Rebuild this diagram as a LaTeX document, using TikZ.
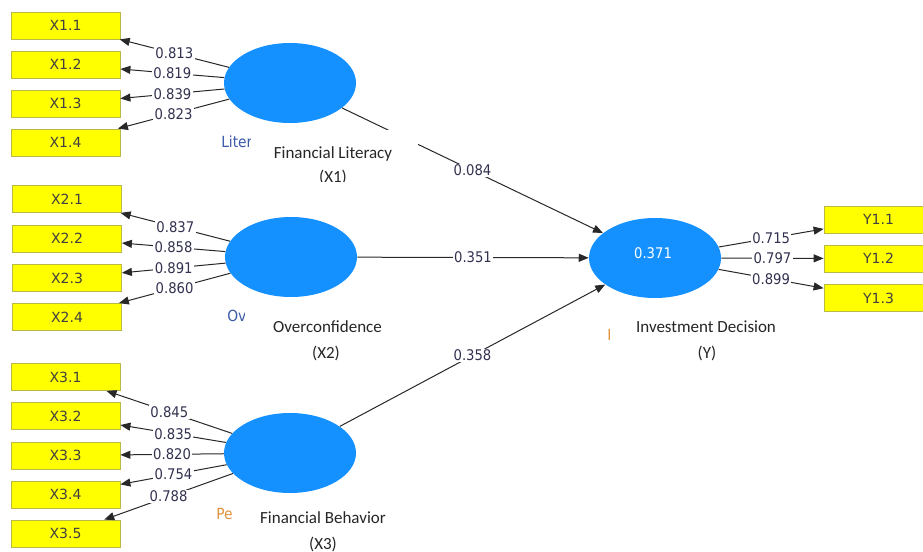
\documentclass[tikz,border=0pt]{standalone}
\usepackage{fontspec}
\setmainfont{Carlito}
\newfontfamily\numfont[FakeStretch=0.9]{DejaVu Sans}
\newfontfamily\boxfont{DejaVu Sans}
\usetikzlibrary{shapes.geometric,arrows.meta}
\definecolor{latent}{RGB}{20,144,255}
\definecolor{indfill}{RGB}{255,255,0}
\definecolor{indline}{RGB}{185,185,70}
\definecolor{coef}{RGB}{50,50,80}
\definecolor{connc}{RGB}{40,40,40}
\definecolor{ghost}{RGB}{60,90,170}
\definecolor{ghosto}{RGB}{225,145,60}
\begin{document}
\begin{tikzpicture}[x=0.75pt,y=-0.75pt,
 ind/.style={rectangle,fill=indfill,draw=indline,line width=0.6pt,minimum width=81.75pt,minimum height=20.25pt,inner sep=0pt,font=\boxfont\fontsize{10.5pt}{12pt}\selectfont,text=black!75},
 lat/.style={ellipse,fill=latent,minimum width=99pt,minimum height=60pt,inner sep=0pt},
 conn/.style={draw=connc,line width=0.75pt,-{Triangle[length=7.5pt,width=6pt]}},
 coefl/.style={fill=white,inner sep=1pt,text=coef,font=\numfont\fontsize{11pt}{13pt}\selectfont},
 lbl/.style={font=\fontsize{12.75pt}{15pt}\selectfont,text=black!85,inner sep=0pt},
 ghostl/.style={font=\numfont\fontsize{11.5pt}{13pt}\selectfont,text=ghost,inner sep=0pt,anchor=west}]
\clip (0,0) rectangle (923,552);
\fill[white] (0,0) rectangle (923,552);

% latent variables
\node[lat] (FL) at (290,83) {};
\node[lat] (OC) at (291,257) {};
\node[lat] (FB) at (290,453) {};
\node[lat] (ID) at (655,258) {};
\node[font=\numfont\fontsize{11pt}{13pt}\selectfont,text=white,inner sep=0pt] (R2) at (653,253) {0.371};

% indicators
\node[ind] (X11) at (65.5,25.5) {X1.1};
\node[ind] (X12) at (65.5,64.5) {X1.2};
\node[ind] (X13) at (65.5,103.5) {X1.3};
\node[ind] (X14) at (65.5,142.5) {X1.4};
\node[ind] (X21) at (67,199) {X2.1};
\node[ind] (X22) at (67,238.5) {X2.2};
\node[ind] (X23) at (67,278) {X2.3};
\node[ind] (X24) at (67,317) {X2.4};
\node[ind] (X31) at (65.5,377) {X3.1};
\node[ind] (X32) at (65.5,416) {X3.2};
\node[ind] (X33) at (65.5,455.5) {X3.3};
\node[ind] (X34) at (65.5,494.5) {X3.4};
\node[ind] (X35) at (65.5,533.5) {X3.5};
\node[ind] (Y11) at (878.5,219.5) {Y1.1};
\node[ind] (Y12) at (878.5,258.5) {Y1.2};
\node[ind] (Y13) at (878.5,298) {Y1.3};

% ghost labels (partly hidden)
\begin{scope}
\clip (200,128) rectangle (250.5,156);
\node[ghostl] (g1) at (221,142) {Liter};
\end{scope}
\begin{scope}
\clip (215,305) rectangle (244,327);
\node[ghostl] (g2) at (227,316) {Ov};
\end{scope}
\begin{scope}
\clip (205,503) rectangle (231,525);
\node[ghostl,text=ghosto] (g3) at (216,514) {Pe};
\end{scope}
\begin{scope}
\clip (600,324) rectangle (611.5,346);
\node[ghostl,text=ghosto] (g4) at (607,335) {I};
\end{scope}

% outer loadings
\draw[conn] (FL) -- node[coefl]{0.813} (X11);
\draw[conn] (FL) -- node[coefl]{0.819} (X12);
\draw[conn] (FL) -- node[coefl]{0.839} (X13);
\draw[conn] (FL) -- node[coefl]{0.823} (X14);
\draw[conn] (OC) -- node[coefl]{0.837} (X21);
\draw[conn] (OC) -- node[coefl]{0.858} (X22);
\draw[conn] (OC) -- node[coefl]{0.891} (X23);
\draw[conn] (OC) -- node[coefl]{0.860} (X24);
\draw[conn] (FB) -- node[coefl]{0.845} (X31);
\draw[conn] (FB) -- node[coefl]{0.835} (X32);
\draw[conn] (FB) -- node[coefl]{0.820} (X33);
\draw[conn] (FB) -- node[coefl]{0.754} (X34);
\draw[conn] (FB) -- node[coefl]{0.788} (X35);
\draw[conn] (ID) -- node[coefl]{0.715} (Y11);
\draw[conn] (ID) -- node[coefl]{0.797} (Y12);
\draw[conn] (ID) -- node[coefl]{0.899} (Y13);

% path coefficients
\draw[conn] (FL) -- node[coefl]{0.084} (ID);
\draw[conn] (OC) -- node[coefl]{0.351} (ID);
\draw[conn] (FB) -- node[coefl]{0.358} (ID);

% latent labels
\begin{scope}
\clip (253,130) rectangle (418,182);
\fill[white] (253,130) rectangle (418,182);
\node[lbl] (FLa) at (333,154) {Financial Literacy};
\node[lbl] (FLb) at (333,177) {(X1)};
\end{scope}
\node[lbl] (OCa) at (327.5,327) {Overconfidence};
\node[lbl] (OCb) at (326,353) {(X2)};
\node[lbl] (FBa) at (323,518) {Financial Behavior};
\node[lbl] (FBb) at (323,544) {(X3)};
\node[lbl] (IDa) at (706,327) {Investment Decision};
\node[lbl] (IDb) at (707,353) {(Y)};
\end{tikzpicture}
\end{document}
